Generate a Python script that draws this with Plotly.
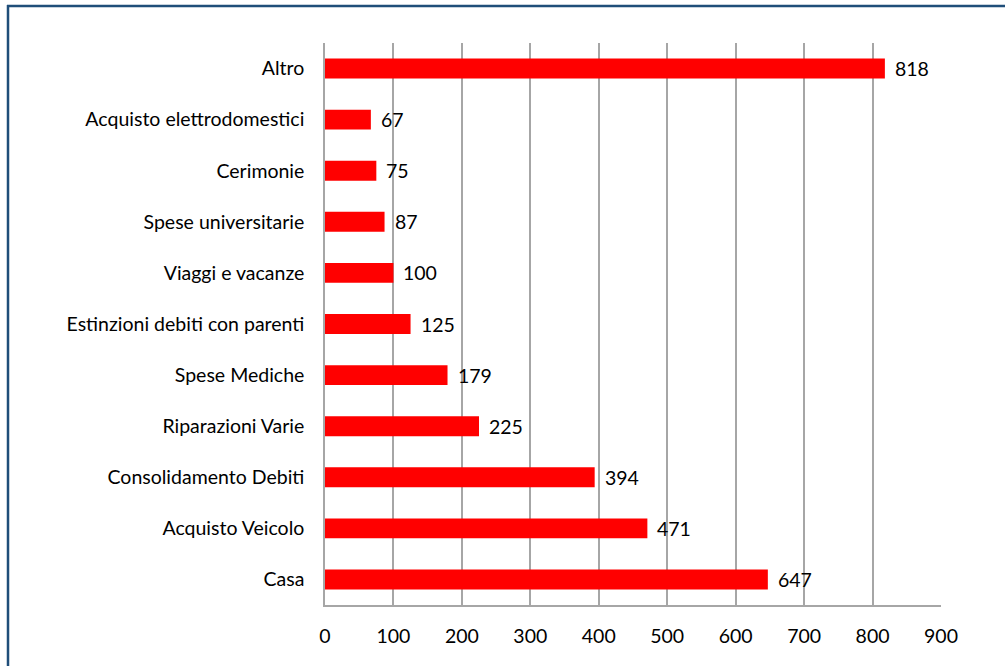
import plotly.graph_objects as go

categories = ["Casa", "Acquisto Veicolo", "Consolidamento Debiti", "Riparazioni Varie",
              "Spese Mediche", "Estinzioni debiti con parenti", "Viaggi e vacanze",
              "Spese universitarie", "Cerimonie", "Acquisto elettrodomestici", "Altro"]
values = [647, 471, 394, 225, 179, 125, 100, 87, 75, 67, 818]
x_ticks = [0, 100, 200, 300, 400, 500, 600, 700, 800, 900]

W, H = 1005, 666
L, R, T, B = 325, 64, 43, 61
pw, ph = W - L - R, H - T - B
FONT = "Lato"
FS = 19.5

fig = go.Figure(go.Bar(
    y=categories, x=values, orientation="h",
    marker=dict(color="#FF0000", line=dict(width=0)),
    cliponaxis=False, hoverinfo="x+y",
))

annotations = [
    dict(x=v, y=c, xref="x", yref="y", text=str(v), showarrow=False,
         xanchor="left", yanchor="middle", xshift=8,
         font=dict(family=FONT, size=FS, color="#000000"))
    for c, v in zip(categories, values)
]

fig.update_layout(
    width=W, height=H,
    margin=dict(l=L, r=R, t=T, b=B),
    paper_bgcolor="white", plot_bgcolor="white",
    bargap=0.61, showlegend=False,
    font=dict(family=FONT, size=FS, color="#000000"),
    annotations=annotations,
    xaxis=dict(range=[0, 900], tickvals=x_ticks, showgrid=True, gridcolor="#A6A6A6",
               gridwidth=1.5, showline=True, linecolor="#A6A6A6", linewidth=1.5,
               ticks="", zeroline=False, ticklabelstandoff=13, mirror=False,
               tickfont=dict(family=FONT, size=FS, color="#000000")),
    yaxis=dict(showline=True, linecolor="#A6A6A6", linewidth=1.5, ticks="",
               ticklabelstandoff=15, showgrid=False,
               tickfont=dict(family=FONT, size=FS, color="#000000")),
    shapes=[
        dict(type="line", xref="paper", yref="paper",
             x0=(7 - L) / pw, x1=(W + 5 - L) / pw,
             y0=(H - B - 6) / ph, y1=(H - B - 6) / ph,
             line=dict(color="#1F4E79", width=2.5)),
        dict(type="line", xref="paper", yref="paper",
             x0=(8 - L) / pw, x1=(8 - L) / pw,
             y0=(H - B - 5) / ph, y1=(H - B - H - 5) / ph,
             line=dict(color="#1F4E79", width=2.5)),
    ],
)

fig.write_html("out.html", config={"displayModeBar": False},
               post_script="document.body.style.margin='0';document.body.style.overflow='hidden';")
